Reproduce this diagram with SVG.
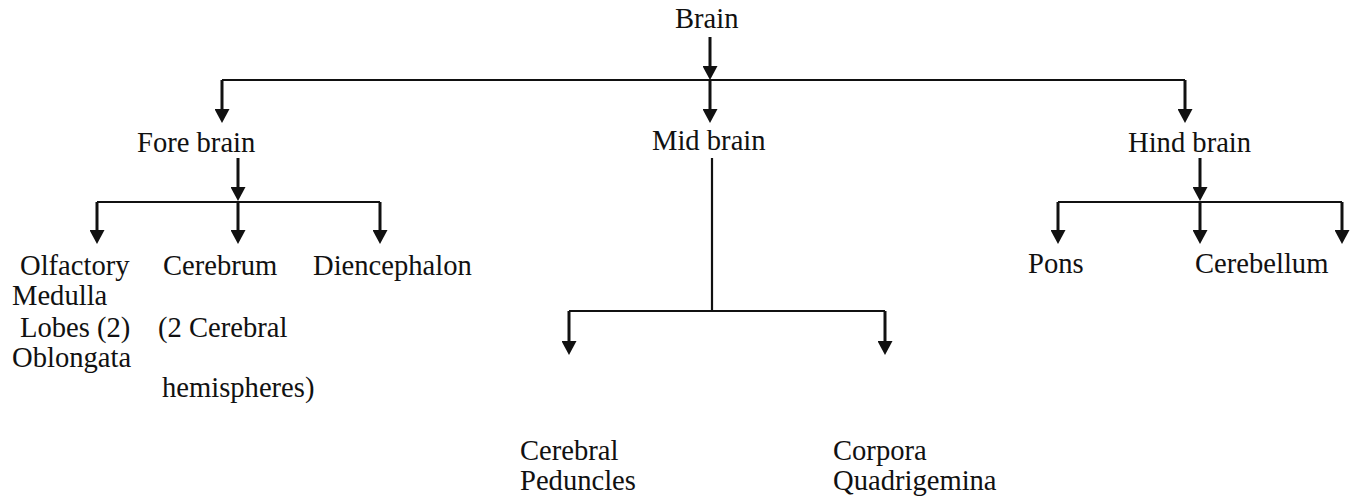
<svg xmlns="http://www.w3.org/2000/svg" width="1358" height="498" viewBox="0 0 1358 498">
<style>
text{font-family:"Liberation Serif","Times New Roman",serif;font-size:28.6px;fill:#111}
.ln{stroke:#111;stroke-width:2.2;fill:none}
.ar{stroke:#111;stroke-width:3;fill:none;marker-end:url(#ah)}
</style>
<defs>
<marker id="ah" viewBox="0 0 14 15" refX="7" refY="7.5" markerWidth="14" markerHeight="15" markerUnits="userSpaceOnUse" orient="auto">
<path d="M0,0 L14,7.5 L0,15 z" fill="#111"/>
</marker>
</defs>
<rect width="1358" height="498" fill="#fff"/>
<g id="connectors">
<line class="ar" x1="710" y1="37" x2="710" y2="73"/>
<line class="ln" x1="222" y1="80" x2="1185" y2="80"/>
<line class="ar" x1="222" y1="80" x2="222" y2="116"/>
<line class="ar" x1="710" y1="80" x2="710" y2="116"/>
<line class="ar" x1="1185" y1="80" x2="1185" y2="116"/>
<line class="ar" x1="238" y1="158" x2="238" y2="194"/>
<line class="ln" x1="97" y1="202" x2="380" y2="202"/>
<line class="ar" x1="97" y1="202" x2="97" y2="237"/>
<line class="ar" x1="238" y1="202" x2="238" y2="237"/>
<line class="ar" x1="380" y1="202" x2="380" y2="237"/>
<line class="ln" x1="712" y1="158" x2="712" y2="311"/>
<line class="ln" x1="569" y1="311" x2="885" y2="311"/>
<line class="ar" x1="569" y1="311" x2="569" y2="348"/>
<line class="ar" x1="885" y1="311" x2="885" y2="348"/>
<line class="ar" x1="1200" y1="158" x2="1200" y2="194"/>
<line class="ln" x1="1058" y1="202" x2="1342" y2="202"/>
<line class="ar" x1="1058" y1="202" x2="1058" y2="237"/>
<line class="ar" x1="1200" y1="202" x2="1200" y2="237"/>
<line class="ar" x1="1342" y1="202" x2="1342" y2="237"/>
</g>
<g id="brain"><text x="675" y="28">Brain</text></g>
<g id="fore-brain"><text x="137" y="152">Fore brain</text></g>
<g id="mid-brain"><text x="652" y="150">Mid brain</text></g>
<g id="hind-brain"><text x="1128" y="152">Hind brain</text></g>
<g id="olfactory"><text x="20" y="275">Olfactory</text><text x="20" y="337">Lobes (2)</text></g>
<g id="medulla"><text x="12" y="305">Medulla</text><text x="12" y="367">Oblongata</text></g>
<g id="cerebrum"><text x="163" y="275">Cerebrum</text><text x="158" y="337">(2 Cerebral</text><text x="162" y="397">hemispheres)</text></g>
<g id="diencephalon"><text x="313" y="275">Diencephalon</text></g>
<g id="pons"><text x="1028" y="273">Pons</text></g>
<g id="cerebellum"><text x="1195" y="273">Cerebellum</text></g>
<g id="cerebral-peduncles"><text x="520" y="460">Cerebral</text><text x="520" y="490">Peduncles</text></g>
<g id="corpora-quadrigemina"><text x="833" y="460">Corpora</text><text x="833" y="490">Quadrigemina</text></g>
</svg>
